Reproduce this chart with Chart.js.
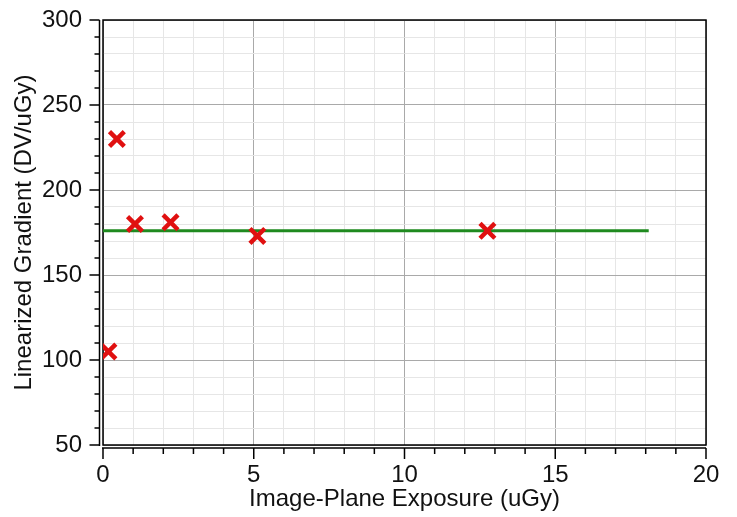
<!DOCTYPE html>
<html lang="en">
<head>
<meta charset="UTF-8">
<title>Linearized Gradient vs Exposure</title>
<script src="https://cdn.jsdelivr.net/npm/chart.js"></script>
<style>
  html, body { margin: 0; padding: 0; background: #fff; }
  #wrap { width: 737px; height: 517px; }
</style>
</head>
<body>
<div id="wrap"><canvas id="chart" width="737" height="517"></canvas></div>
<script>
// measured gradient per exposure level
const exposure = [0.18, 0.46, 1.06, 2.24, 5.12, 12.75];
const gradient = [105, 230, 180, 181, 173, 176];

// mean gradient line
const fitX = [0, 18.1];
const fitY = [176, 176];

const xMajor = 5;
const yMajor = 50;

const FONT = "'Liberation Sans', Arial, sans-serif";

// black frame around the plot, plus offset axis lines with major/minor ticks
const axesFrame = {
    id: 'axesFrame',
    beforeDatasetsDraw(chart) {
        const { ctx, chartArea: a, scales: { x, y } } = chart;
        ctx.save();
        ctx.strokeStyle = '#000';
        ctx.lineWidth = 1.5;
        ctx.strokeRect(a.left, a.top, a.right - a.left, a.bottom - a.top);

        const ax = a.left - 3.5;
        const ay = a.bottom + 3;
        ctx.beginPath();
        ctx.moveTo(ax, a.top);
        ctx.lineTo(ax, a.bottom + 1);
        ctx.moveTo(a.left - 1, ay);
        ctx.lineTo(a.right, ay);
        y.ticks.forEach(t => {
            const py = y.getPixelForValue(t.value);
            const len = t.value % yMajor === 0 ? 10 : 5;
            ctx.moveTo(ax, py);
            ctx.lineTo(ax - len, py);
        });
        x.ticks.forEach(t => {
            const px = x.getPixelForValue(t.value);
            const len = t.value % xMajor === 0 ? 11 : 6;
            ctx.moveTo(px, ay);
            ctx.lineTo(px, ay + len);
        });
        ctx.stroke();
        ctx.restore();
    }
};

const gridColor = major => c => (c.tick && c.tick.value % major === 0) ? '#a9a9a9' : '#e6e6e6';

new Chart(document.getElementById('chart'), {
    type: 'scatter',
    data: {
        datasets: [
            {
                label: 'Measured',
                data: exposure.map((v, i) => ({ x: v, y: gradient[i] })),
                pointStyle: 'crossRot',
                pointRadius: 10.5,
                pointHoverRadius: 10.5,
                borderColor: '#e01010',
                backgroundColor: '#e01010',
                pointBorderWidth: 4.5,
                order: 0
            },
            {
                label: 'Mean',
                type: 'line',
                data: fitX.map((v, i) => ({ x: v, y: fitY[i] })),
                borderColor: '#1f8a1f',
                borderWidth: 3,
                pointRadius: 0,
                fill: false,
                order: 1
            }
        ]
    },
    options: {
        responsive: false,
        animation: false,
        events: [],
        layout: { padding: { left: 0, right: 31, top: 20, bottom: 0 } },
        plugins: {
            legend: { display: false },
            tooltip: { enabled: false }
        },
        scales: {
            x: {
                type: 'linear',
                min: 0,
                max: 20,
                afterFit: s => { s.height = 72; s.paddingLeft = 0; s.paddingRight = 0; },
                border: { display: false },
                grid: { color: gridColor(xMajor), lineWidth: 1, drawTicks: false },
                ticks: {
                    stepSize: 1,
                    autoSkip: false,
                    maxRotation: 0,
                    padding: 16,
                    color: '#111',
                    font: { family: FONT, size: 24 },
                    callback: v => v % xMajor === 0 ? v : ''
                },
                title: {
                    display: true,
                    text: 'Image-Plane Exposure (uGy)',
                    color: '#111',
                    font: { family: FONT, size: 24 },
                    padding: { top: 0, bottom: 3 }
                }
            },
            y: {
                type: 'linear',
                min: 50,
                max: 300,
                afterFit: s => { s.width = 103; s.paddingTop = 0; s.paddingBottom = 0; },
                border: { display: false },
                grid: { color: gridColor(yMajor), lineWidth: 1, drawTicks: false },
                ticks: {
                    stepSize: 10,
                    autoSkip: false,
                    padding: 21,
                    color: '#111',
                    font: { family: FONT, size: 24 },
                    callback: v => v % yMajor === 0 ? v : ''
                },
                title: {
                    display: true,
                    text: 'Linearized Gradient (DV/uGy)',
                    color: '#111',
                    font: { family: FONT, size: 24 },
                    padding: { top: 10, bottom: 0 }
                }
            }
        }
    },
    plugins: [axesFrame]
});
</script>
</body>
</html>
